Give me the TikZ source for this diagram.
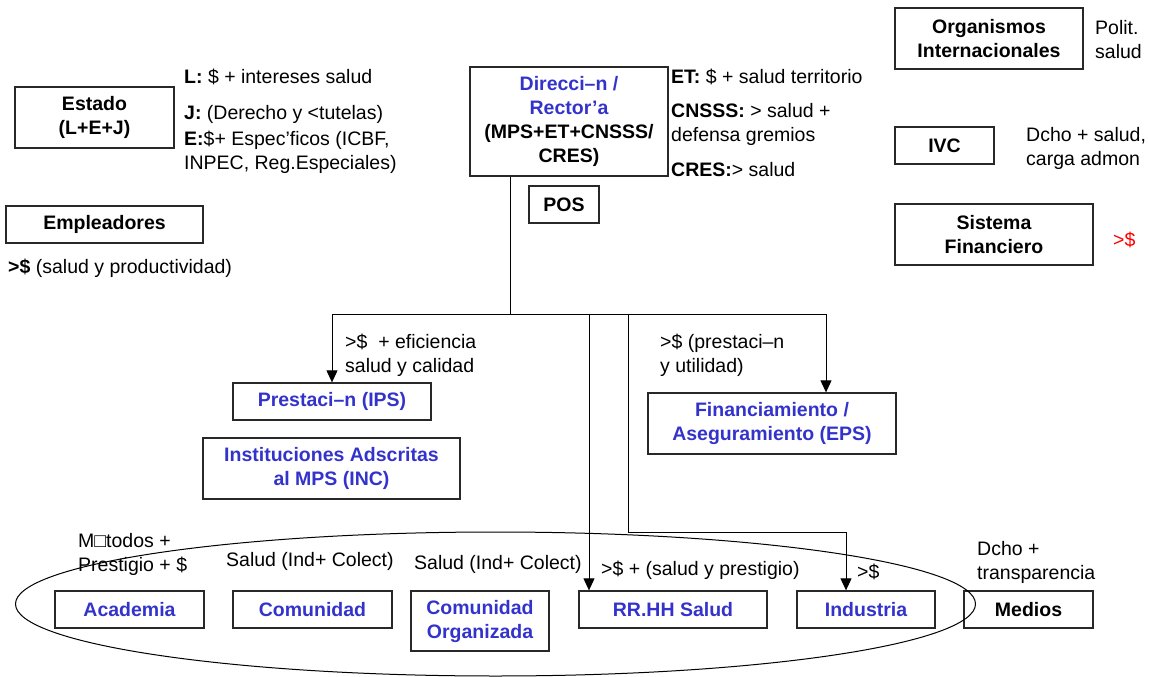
\documentclass[tikz,border=0pt]{standalone}
\usepackage{fontspec}
\setmainfont{Liberation Sans}
\usetikzlibrary{arrows.meta}
\definecolor{actorblue}{RGB}{51,51,204}
\definecolor{boxline}{RGB}{40,40,40}
\begin{document}
\begin{tikzpicture}[x=1pt,y=-1pt,
  every node/.style={font=\fontsize{19.5}{24}\selectfont, inner sep=0pt},
  actor/.style={draw=boxline, line width=1.3pt, align=center, font=\fontsize{19.5}{24}\selectfont\bfseries},
  blueactor/.style={actor, text=actorblue},
  note/.style={anchor=west, align=left},
  link/.style={draw=black, line width=1pt},
  arr/.style={link, -{Triangle[width=11pt,length=12pt]}}]
\useasboundingbox (0,0) rectangle (1149,677);

% --- boxes ---
\node[actor, minimum width=159, minimum height=61] (estado) at (94.5,117.5) {Estado\\(L+E+J)};
\node[actor, minimum width=197, minimum height=37] (emple) at (104.5,224.5) {Empleadores};
\node[actor, minimum width=198, minimum height=109] (dir) at (569,121.5)
  {\textcolor{actorblue}{Direcci–n /}\\\textcolor{actorblue}{Rector’a}\\(MPS+ET+CNSSS/\\CRES)};
\node[actor, minimum width=70, minimum height=37] (pos) at (564,204.5) {POS};
\node[actor, minimum width=188, minimum height=61] (org) at (989,38.5) {Organismos\\Internacionales};
\node[actor, minimum width=99, minimum height=37] (ivc) at (944.5,145.5) {IVC};
\node[actor, minimum width=198, minimum height=61] (sis) at (994,234.5) {Sistema\\Financiero};
\node[blueactor, minimum width=198, minimum height=37] (ips) at (332,401.5) {Prestaci–n (IPS)};
\node[blueactor, minimum width=248, minimum height=61] (eps) at (772,423.5) {Financiamiento /\\Aseguramiento (EPS)};
\node[blueactor, minimum width=257, minimum height=61] (inc) at (331.5,468.5) {Instituciones Adscritas\\al MPS (INC)};
\node[blueactor, minimum width=149, minimum height=37] (acad) at (129.5,609.5) {Academia};
\node[blueactor, minimum width=159, minimum height=37] (com) at (312.5,609.5) {Comunidad};
\node[blueactor, minimum width=138, minimum height=60] (comorg) at (480,621) {Comunidad\\Organizada};
\node[blueactor, minimum width=188, minimum height=37] (rrhh) at (673,609.5) {RR.HH Salud};
\node[blueactor, minimum width=138, minimum height=37] (ind) at (866,609.5) {Industria};
\node[actor, minimum width=129, minimum height=37] (medios) at (1028.5,609.5) {Medios};

% --- interest notes ---
\node[note] (nl) at (184,77) {\textbf{L:} \$ + intereses salud};
\node[note] (nj) at (184,114) {\textbf{J:} (Derecho y <tutelas)};
\node[note] (ne) at (184,152.5) {\textbf{E:}\$+ Espec’ficos (ICBF,\\INPEC, Reg.Especiales)};
\node[note] (nemp) at (8,268) {\textbf{>\$} (salud y productividad)};
\node[note] (net) at (671,77) {\textbf{ET:} \$ + salud territorio};
\node[note] (ncn) at (671,124.5) {\textbf{CNSSS:} > salud +\\defensa gremios};
\node[note] (ncr) at (671,170) {\textbf{CRES:}> salud};
\node[note] (npol) at (1095,40) {Polit.\\salud};
\node[note] (nivc) at (1026,148.5) {Dcho + salud,\\carga admon};
\node[note, text=red] (nsis) at (1113,240) {>\$};
\node[note] (nips) at (345,355) {>\$~ + eficiencia\\salud y calidad};
\node[note] (neps) at (660,355) {>\$ (prestaci–n\\y utilidad)};
\node[note] (nacad) at (78,554) {M□todos +\\Prestigio + \$};
\node[note] (ncom) at (226,561) {Salud (Ind+ Colect)};
\node[note] (ncomorg) at (414,564) {Salud (Ind+ Colect)};
\node[note] (nrrhh) at (601,570) {>\$ + (salud y prestigio)};
\node[note] (nind) at (857,572) {>\$};
\node[note] (nmed) at (977,562.5) {Dcho +\\transparencia};

% --- connectors ---
\coordinate (j) at (510,314);
\coordinate (jl) at (332,314);
\coordinate (jr) at (826,314);
\coordinate (j2) at (589,314);
\coordinate (j3) at (628,314);
\coordinate (k) at (846,532);
\draw[link] (dir.south -| j) -- (j);
\draw[link] (jl) -- (jr);
\draw[arr] (jl) -- (ips.north -| jl);
\draw[arr] (jr) -- (eps.north -| jr);
\draw[arr] (j2) -- (rrhh.north -| j2);
\draw[link] (j3) |- (k);
\draw[arr] (k) -- (ind.north -| k);

% --- actors surrounding the system ---
\draw[line width=1pt] (495.5,604) ellipse [x radius=480, y radius=72];
\end{tikzpicture}
\end{document}
